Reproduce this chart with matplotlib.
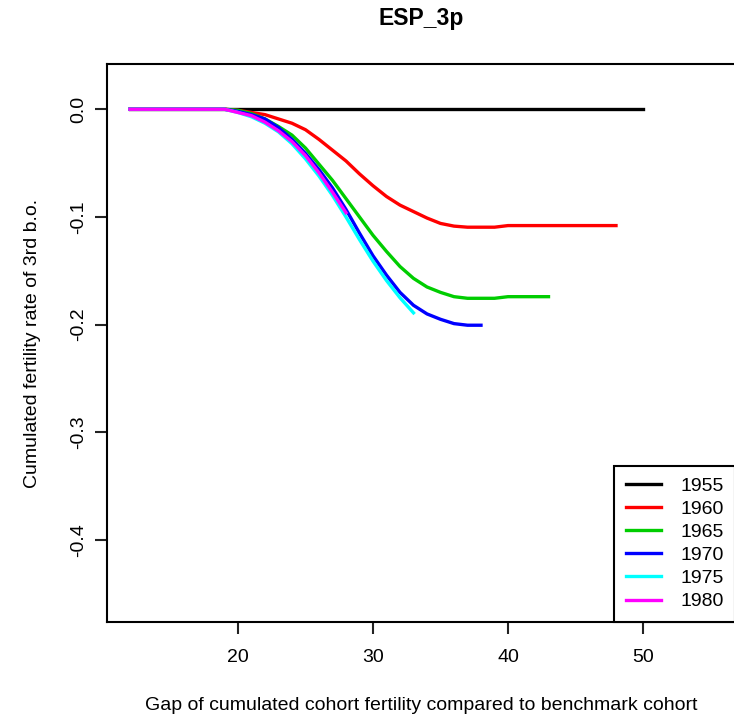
import matplotlib
matplotlib.use('Agg')
from matplotlib import pyplot as plt

plt.rcParams['font.family'] = ['Liberation Sans', 'DejaVu Sans']
plt.rcParams['axes.unicode_minus'] = False

# gap in cumulated 3rd-birth fertility vs the 1955 cohort, by age
cohorts = ['1955', '1960', '1965', '1970', '1975', '1980']
colors = ['#000000', '#ff0000', '#00cd00', '#0000ff', '#00ffff', '#ff00ff']

ages_1955 = list(range(12, 51))
gap_1955 = [0.0, 0.0, 0.0, 0.0, 0.0, 0.0, 0.0, 0.0, 0.0, 0.0,
            0.0, 0.0, 0.0, 0.0, 0.0, 0.0, 0.0, 0.0, 0.0, 0.0,
            0.0, 0.0, 0.0, 0.0, 0.0, 0.0, 0.0, 0.0, 0.0, 0.0,
            0.0, 0.0, 0.0, 0.0, 0.0, 0.0, 0.0, 0.0, 0.0]

ages_1960 = list(range(12, 49))
gap_1960 = [0.0, 0.0, 0.0, 0.0, 0.0, 0.0, 0.0, 0.0,
            -0.001, -0.003, -0.005, -0.009, -0.013, -0.019, -0.028, -0.038,
            -0.048, -0.060, -0.071, -0.081, -0.089, -0.095, -0.101, -0.106,
            -0.1085, -0.1095, -0.1095, -0.1095, -0.108, -0.108, -0.108, -0.108,
            -0.108, -0.108, -0.108, -0.108, -0.108]

ages_1965 = list(range(12, 44))
gap_1965 = [0.0, 0.0, 0.0, 0.0, 0.0, 0.0, 0.0, 0.0,
            -0.001, -0.004, -0.009, -0.016, -0.024, -0.036, -0.051, -0.066,
            -0.083, -0.100, -0.117, -0.132, -0.146, -0.157, -0.165, -0.170,
            -0.174, -0.1755, -0.1755, -0.1755, -0.174, -0.174, -0.174, -0.174]

ages_1970 = list(range(12, 39))
gap_1970 = [0.0, 0.0, 0.0, 0.0, 0.0, 0.0, 0.0, 0.0,
            -0.002, -0.005, -0.009, -0.017, -0.028, -0.041, -0.056, -0.073,
            -0.093, -0.115, -0.136, -0.154, -0.170, -0.182, -0.190, -0.195,
            -0.199, -0.2005, -0.2005]

ages_1975 = list(range(12, 34))
gap_1975 = [0.0, 0.0, 0.0, 0.0, 0.0, 0.0, 0.0, 0.0,
            -0.003, -0.007, -0.013, -0.021, -0.032, -0.046, -0.062, -0.080,
            -0.100, -0.121, -0.141, -0.159, -0.175, -0.189]

ages_1980 = list(range(12, 29))
gap_1980 = [0.0, 0.0, 0.0, 0.0, 0.0, 0.0, 0.0, 0.0,
            -0.003, -0.006, -0.012, -0.020, -0.030, -0.043, -0.059, -0.077,
            -0.096]

series = [(ages_1955, gap_1955), (ages_1960, gap_1960), (ages_1965, gap_1965),
          (ages_1970, gap_1970), (ages_1975, gap_1975), (ages_1980, gap_1980)]

x_ticks = [20, 30, 40, 50]
y_ticks = [0.0, -0.1, -0.2, -0.3, -0.4]

W, H = 734, 717
fig = plt.figure(figsize=(W / 100, H / 100), dpi=100)
# plot box runs slightly past the right edge, like the cropped original
ax_l, ax_b, ax_w, ax_h = 107, 95, 628.5, 558
ax = fig.add_axes([ax_l / W, ax_b / H, ax_w / W, ax_h / H])

for (ages, gap), name, col in zip(series, cohorts, colors):
    ax.plot(ages, gap, color=col, lw=2.4, label=name)

ax.set_xlim(10.3, 56.85)
ax.set_ylim(-0.476, 0.042)
ax.set_xticks(x_ticks)
ax.set_xticklabels([str(t) for t in x_ticks])
ax.set_yticks(y_ticks)
ax.set_yticklabels(['%.1f' % t for t in y_ticks], rotation=90, va='center')

for s in ax.spines.values():
    s.set_linewidth(1.5)
ax.tick_params(axis='both', length=8.5, width=1.5, labelsize=14, color='#222222')
ax.tick_params(axis='x', pad=11)
ax.tick_params(axis='y', pad=6)

# title sits near the top of the (cropped) margin
fig.text((ax_l + ax_w / 2) / W, 1 - 19 / H, 'ESP_3p', fontsize=16.5,
         fontweight='bold', ha='center', va='center')

ax.set_xlabel('Gap of cumulated cohort fertility compared to benchmark cohort', fontsize=14)
ax.xaxis.set_label_coords(0.5, -83 / ax_h)
ax.xaxis.label.set_va('center')
ax.set_ylabel('Cumulated fertility rate of 3rd b.o.', fontsize=14)
ax.yaxis.set_label_coords(-74 / ax_w, 0.5)
ax.yaxis.label.set_va('center')

leg = ax.legend(loc='lower right', fontsize=14, frameon=True, fancybox=False,
                edgecolor='black', framealpha=1, borderaxespad=0,
                handlelength=1.8, handletextpad=1.0, labelspacing=0.28,
                borderpad=0.6)
leg.get_frame().set_linewidth(1.5)

plt.savefig('out.png', dpi=100)
